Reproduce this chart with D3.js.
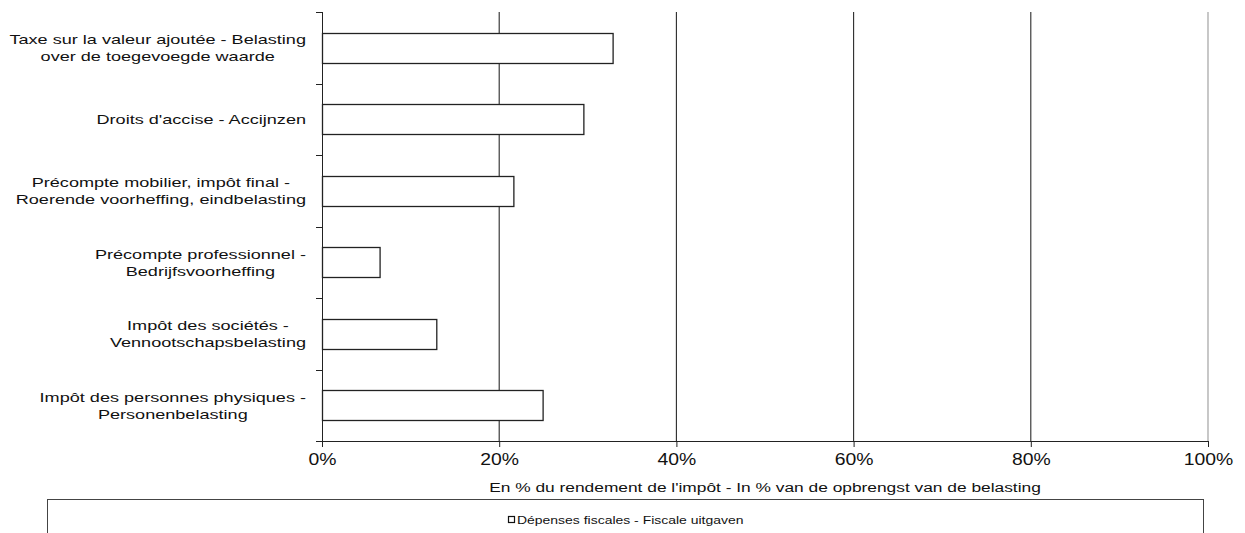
<!DOCTYPE html>
<html>
<head>
<meta charset="utf-8">
<script src="https://cdn.jsdelivr.net/npm/d3@7"></script>
<style>
  body { margin: 0; background: #fff; }
  svg { font-family: "Liberation Sans", Arial, sans-serif; }
</style>
</head>
<body>
<div id="chart"></div>
<script>
// categories, top to bottom (each label split in lines)
const categories = [
  ["Taxe sur la valeur ajoutée - Belasting", "over de toegevoegde waarde"],
  ["Droits d'accise - Accijnzen"],
  ["Précompte mobilier, impôt final -", "Roerende voorheffing, eindbelasting"],
  ["Précompte professionnel -", "Bedrijfsvoorheffing"],
  ["Impôt des sociétés -", "Vennootschapsbelasting"],
  ["Impôt des personnes physiques -", "Personenbelasting"]
];
// Dépenses fiscales, in % of tax yield
const values = [32.8, 29.5, 21.6, 6.5, 12.9, 24.9];
const xTicks = [0, 20, 40, 60, 80, 100];
const xTitle = "En % du rendement de l'impôt - In % van de opbrengst van de belasting";
const seriesName = "Dépenses fiscales - Fiscale uitgaven";

// Dimensions
const W = 1245, H = 533;
const margin = { top: 12, right: 37, bottom: 92, left: 322 };
const width = W - margin.left - margin.right;
const height = H - margin.top - margin.bottom;
const stretch = 1.33; // the original text is wide

const svg = d3.select("#chart").append("svg")
  .attr("width", W)
  .attr("height", H);

const g = svg.append("g")
  .attr("transform", `translate(${margin.left}, ${margin.top})`);

const keys = categories.map((d, i) => i);

// Scales
const x = d3.scaleLinear().domain([0, 100]).range([0, width]);
const y = d3.scaleBand().domain(keys).range([0, height]).paddingInner(0.58).paddingOuter(0.29);
const yb = d3.scaleBand().domain(keys).range([0, height]);

// Gridlines
g.selectAll(".grid")
  .data(xTicks.slice(1))
  .join("line")
  .attr("x1", d => x(d)).attr("x2", d => x(d))
  .attr("y1", 0).attr("y2", height)
  .attr("stroke", d => d === 100 ? "#9a9a9a" : "#2a2a2a")
  .attr("stroke-width", 1.1);

// Bars
g.selectAll(".bar")
  .data(values)
  .join("rect")
  .attr("x", 0.5)
  .attr("y", (d, i) => Math.round(y(i)) + 0.5)
  .attr("width", d => x(d))
  .attr("height", Math.round(y.bandwidth()))
  .attr("fill", "#fff")
  .attr("stroke", "#222")
  .attr("stroke-width", 1.3);

// X axis
const xAxis = g.append("g")
  .attr("transform", `translate(0, ${height})`)
  .call(d3.axisBottom(x).tickValues(xTicks).tickFormat(d => d + "%").tickSizeOuter(0).tickSize(6).tickPadding(6));
xAxis.select(".domain").attr("stroke", "#222").attr("d", `M-6,0.5H${width}`);
xAxis.selectAll(".tick line").attr("stroke", "#222");
xAxis.selectAll("text")
  .attr("font-size", 17).attr("fill", "#111")
  .attr("font-family", "Liberation Sans, Arial, sans-serif")
  .attr("transform", "scale(1.14,1)");

// Y axis (ticks at band boundaries)
g.append("line")
  .attr("x1", 0.5).attr("x2", 0.5).attr("y1", 0).attr("y2", height + 6)
  .attr("stroke", "#222");
g.selectAll(".ytick")
  .data(keys)
  .join("line")
  .attr("x1", -6).attr("x2", 0)
  .attr("y1", d => Math.round(yb(d)) + 0.5).attr("y2", d => Math.round(yb(d)) + 0.5)
  .attr("stroke", "#222");

// Category labels: lines centered on each other, block right aligned
const labels = g.selectAll(".cat")
  .data(categories)
  .join("g")
  .attr("transform", (d, i) => `translate(-16, ${yb(i) + yb.bandwidth() / 2}) scale(${stretch},1)`);
labels.each(function (lines) {
  const t = d3.select(this).append("text")
    .attr("font-size", 13.6)
    .attr("fill", "#111");
  lines.forEach((ln, j) => {
    t.append("tspan").text(ln)
      .attr("y", (j - (lines.length - 1) / 2) * 17 + 5);
  });
  let maxW = 0;
  t.selectAll("tspan").each(function () { maxW = Math.max(maxW, this.getComputedTextLength()); });
  t.selectAll("tspan").attr("x", -maxW / 2).attr("text-anchor", "middle");
});

// X axis title
g.append("text")
  .attr("transform", `translate(${x(50)}, ${height + 51}) scale(1.285,1)`)
  .attr("text-anchor", "middle")
  .attr("font-size", 13.5)
  .attr("fill", "#111")
  .text(xTitle);

// Legend
const leg = svg.append("g");
leg.append("rect")
  .attr("x", 47.5).attr("y", 499.5)
  .attr("width", 1156).attr("height", 40)
  .attr("fill", "#fff").attr("stroke", "#444");
leg.append("rect")
  .attr("x", 508.5).attr("y", 516.5)
  .attr("width", 6).attr("height", 6)
  .attr("fill", "#fff").attr("stroke", "#111").attr("stroke-width", 1.2);
leg.append("text")
  .attr("transform", `translate(517, 523.5) scale(${stretch},1)`)
  .attr("font-size", 10.5)
  .attr("fill", "#111")
  .text(seriesName);
</script>
</body>
</html>
